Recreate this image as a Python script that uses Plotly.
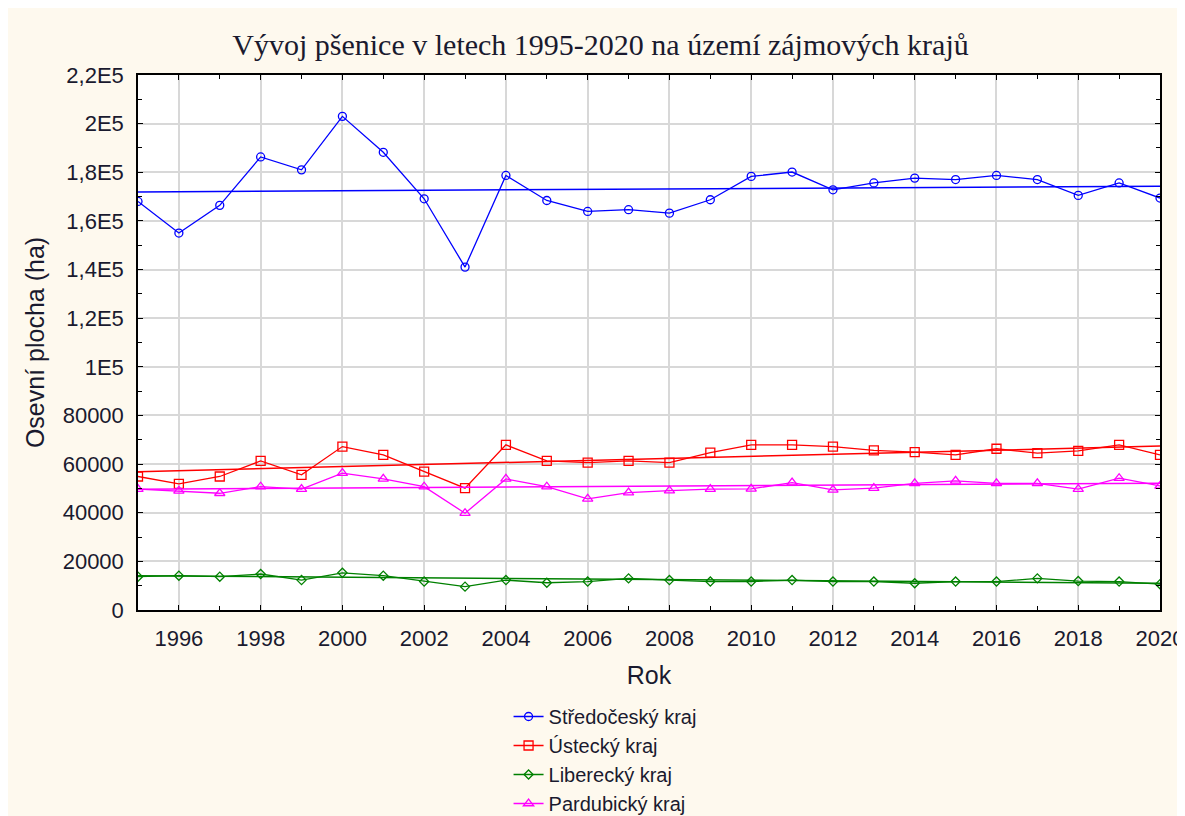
"""Vývoj pšenice 1995-2020 – osevní plocha v zájmových krajích."""

import plotly.graph_objects as go

years = list(range(1995, 2021))

stredocesky = [168000, 155000, 166400, 186300, 181000, 203000, 188200, 169100, 141000,
               178700, 168400, 163900, 164600, 163200, 168700, 178300, 180100, 172800,
               175600, 177600, 177000, 178700, 177000, 170500, 175600, 169400]
ustecky = [54900, 51900, 54900, 61300, 55600, 67200, 63800, 56900, 50100, 67900, 61300,
           60600, 61300, 60600, 64700, 67900, 67900, 67200, 65600, 64900, 63800, 66300,
           64500, 65400, 67900, 63800]
liberecky = [13700, 14100, 13700, 14800, 12300, 15300, 14100, 11700, 9600, 12300, 11200,
             11700, 13000, 12300, 11700, 11700, 12300, 11700, 11700, 11000, 11700, 11700,
             13000, 11900, 11700, 10600]
pardubicky = [49700, 49000, 48000, 50700, 49700, 56300, 53900, 50700, 39800, 53900, 50700,
              45700, 48300, 49100, 49700, 49800, 52400, 49400, 50100, 52100, 53100, 52100,
              52100, 49700, 54200, 51000]

# linear fit lines, end values (1995, 2020)
trend_years = [1995, 2020]
trend_stredocesky = [171900, 174300]
trend_ustecky = [56900, 67400]
trend_liberecky = [14100, 11000]
trend_pardubicky = [49700, 52100]

y_tickvals = [0, 20000, 40000, 60000, 80000, 100000, 120000, 140000, 160000, 180000,
              200000, 220000]
y_ticktext = ["0", "20000", "40000", "60000", "80000", "1E5", "1,2E5", "1,4E5", "1,6E5",
              "1,8E5", "2E5", "2,2E5"]
x_tickvals = list(range(1996, 2021, 2))

series = [
    ("Středočeský kraj", stredocesky, trend_stredocesky, "#0000FF", "circle-open", 8),
    ("Ústecký kraj", ustecky, trend_ustecky, "#FF0000", "square-open", 9),
    ("Liberecký kraj", liberecky, trend_liberecky, "#008000", "diamond-open", 7),
    ("Pardubický kraj", pardubicky, trend_pardubicky, "#FF00FF", "triangle-up-open", 9),
]

CREAM = "#FEF9EE"
SANS = "Liberation Sans, Arial, sans-serif"
TEXT = "#1a1a2e"

fig = go.Figure()

for name, values, trend, color, symbol, size in series:
    fig.add_trace(
        go.Scatter(
            x=trend_years,
            y=trend,
            mode="lines",
            line={"color": color, "width": 1.5},
            showlegend=False,
            hoverinfo="skip",
        )
    )
    fig.add_trace(
        go.Scatter(
            x=years,
            y=values,
            mode="lines+markers",
            name=name,
            line={"color": color, "width": 1.3},
            marker={"symbol": symbol, "size": size, "color": color, "line": {"width": 1.3}},
        )
    )

# the page body adds an 8px offset, so the figure is placed relative to that
W, H = 1185, 816
L, R, T, B = 130, 33, 67, 214

axis_common = {
    "ticks": "inside",
    "ticklen": 5,
    "tickcolor": "black",
    "showgrid": True,
    "gridcolor": "#D8D8D8",
    "gridwidth": 1.5,
    "showline": True,
    "linecolor": "black",
    "linewidth": 1.5,
    "mirror": "ticks",
    "zeroline": False,
    "tickfont": {"size": 22},
    "automargin": False,
}

fig.update_layout(
    width=W,
    height=H,
    margin={"l": L, "r": R, "t": T, "b": B},
    paper_bgcolor=CREAM,
    plot_bgcolor="white",
    font={"family": SANS, "size": 21, "color": TEXT},
    title={
        "text": "Vývoj pšenice v letech 1995-2020 na území zájmových krajů",
        "font": {"family": "Liberation Serif, Times New Roman, serif", "size": 30,
                 "color": TEXT},
        "x": 0.5,
        "xanchor": "center",
        "y": 1 - 36 / H,
        "yanchor": "middle",
    },
    xaxis={
        **axis_common,
        "range": [1995, 2020],
        "tickvals": x_tickvals,
        "ticklabelstandoff": 8,
        "minor": {"dtick": 1, "ticks": "inside", "ticklen": 4, "tickcolor": "black",
                  "showgrid": False},
        "title": {"text": "Rok", "standoff": 16},
    },
    yaxis={
        **axis_common,
        "range": [0, 220000],
        "tickvals": y_tickvals,
        "ticktext": y_ticktext,
        "ticklabelstandoff": 8,
        "minor": {"dtick": 10000, "ticks": "inside", "ticklen": 4, "tickcolor": "black",
                  "showgrid": False},
        "title": {"text": "Osevní plocha (ha)", "standoff": 11},
    },
    legend={
        "orientation": "v",
        "x": 0.457,
        "xanchor": "center",
        "yref": "container",
        "y": (H - 689) / H,
        "yanchor": "top",
        "bgcolor": "rgba(0,0,0,0)",
        "font": {"size": 20},
    },
)

fig.write_html("out.html")
